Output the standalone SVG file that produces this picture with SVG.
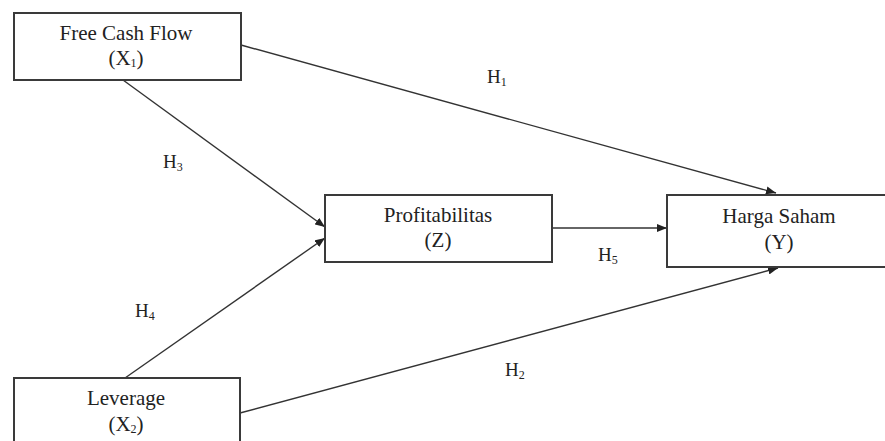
<svg xmlns="http://www.w3.org/2000/svg" width="885" height="441" viewBox="0 0 885 441">
<style>
.box{fill:#fff;stroke:#3a3a3a;stroke-width:2}
.t{font-family:"Liberation Serif","Times New Roman",serif;font-size:21px;fill:#222;text-anchor:middle}
.h{font-family:"Liberation Serif","Times New Roman",serif;font-size:19px;fill:#222}
.sub{font-size:12px}
.c{stroke:#333;stroke-width:1.4;fill:none;marker-end:url(#ah)}
</style>
<defs>
<marker id="ah" viewBox="0 0 10 8" refX="10" refY="4" markerWidth="10" markerHeight="8" markerUnits="userSpaceOnUse" orient="auto">
<path d="M0,0 L10,4 L0,8 Z" fill="#222"/>
</marker>
</defs>
<rect width="885" height="441" fill="#fff"/>
<g id="connectors">
<line class="c" x1="241" y1="45" x2="776" y2="193"/>
<line class="c" x1="123" y1="80" x2="325" y2="227"/>
<line class="c" x1="125" y1="378" x2="325" y2="238"/>
<line class="c" x1="552" y1="228" x2="667" y2="228"/>
<line class="c" x1="240" y1="413" x2="778" y2="268"/>
<text class="h" x="487" y="83">H<tspan class="sub" dy="3">1</tspan></text>
<text class="h" x="163" y="168">H<tspan class="sub" dy="3">3</tspan></text>
<text class="h" x="598" y="261">H<tspan class="sub" dy="3">5</tspan></text>
<text class="h" x="135" y="317">H<tspan class="sub" dy="3">4</tspan></text>
<text class="h" x="505" y="376">H<tspan class="sub" dy="3">2</tspan></text>
</g>
<g id="x1">
<rect class="box" x="14" y="13" width="227" height="67"/>
<text class="t" x="126" y="40">Free Cash Flow</text>
<text class="t" x="126" y="65">(X<tspan class="sub" dy="2">1</tspan><tspan dy="-2">)</tspan></text>
</g>
<g id="z">
<rect class="box" x="325" y="195" width="227" height="67"/>
<text class="t" x="438" y="222">Profitabilitas</text>
<text class="t" x="438" y="247">(Z)</text>
</g>
<g id="y">
<rect class="box" x="667" y="195" width="230" height="72"/>
<text class="t" x="779" y="223">Harga Saham</text>
<text class="t" x="779" y="249">(Y)</text>
</g>
<g id="x2">
<rect class="box" x="14" y="378" width="226" height="70"/>
<text class="t" x="126" y="405">Leverage</text>
<text class="t" x="126" y="431">(X<tspan class="sub" dy="2">2</tspan><tspan dy="-2">)</tspan></text>
</g>
</svg>
